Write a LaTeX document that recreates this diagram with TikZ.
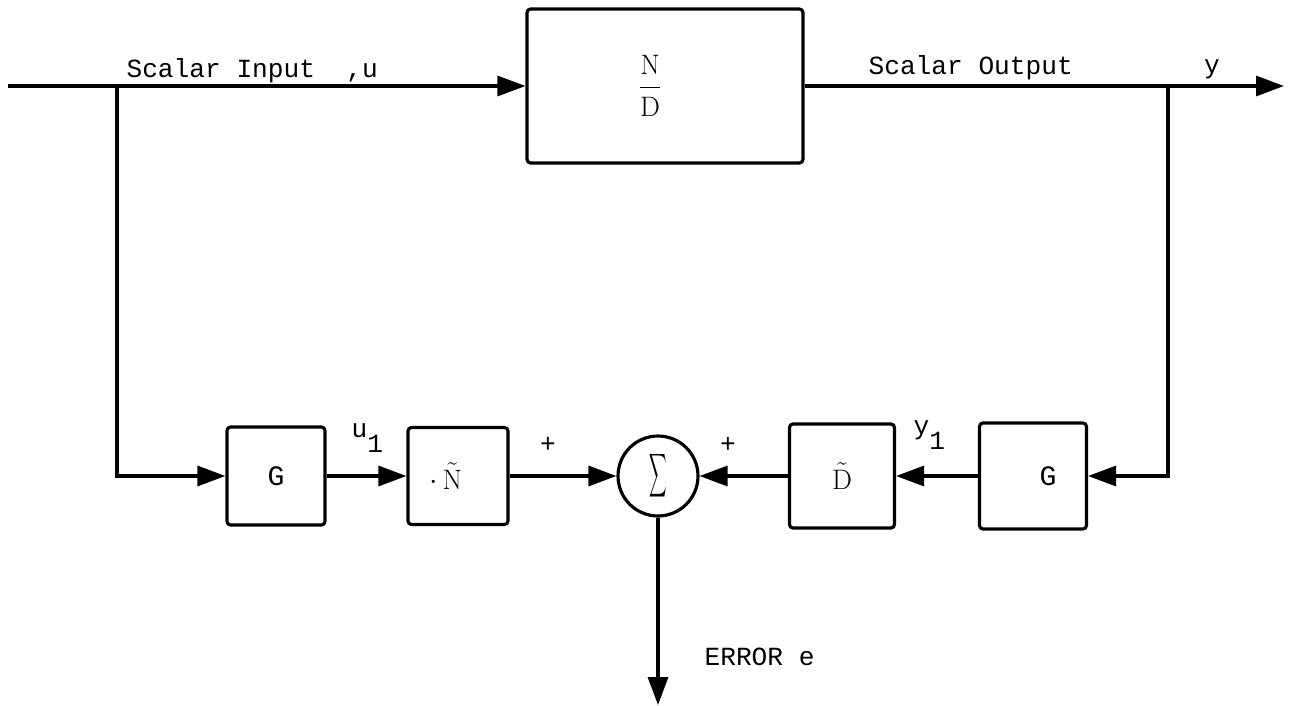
\documentclass[tikz,border=0pt]{standalone}
\usepackage{fontspec}
\setmonofont{Liberation Mono}
\usepackage{amsmath}
\usetikzlibrary{shapes, arrows.meta, positioning, calc}

\begin{document}
\begin{tikzpicture}[x=0.02cm, y=-0.02cm, line width=1.8pt,
  blk/.style={draw, rounded corners=2pt, inner sep=0pt, font=\fontsize{16}{18}\selectfont},
  sumnode/.style={draw, circle, minimum size=1.6cm, inner sep=0pt},
  arr/.style={-{Triangle[length=5.6mm, width=4mm]}},
  lbl/.style={inner sep=0pt, font=\ttfamily\fontsize{14.9}{17}\selectfont}]

  \useasboundingbox (0,0) rectangle (1292,706);

  % plant and the loop blocks
  \node[blk, minimum width=5.52cm, minimum height=3.08cm] (plant) at (665,86)
    {\raisebox{0.26cm}{$\dfrac{\mathrm{N}}{\mathrm{D}}$}\hspace*{0.6cm}};
  \node[blk, minimum width=1.96cm, minimum height=1.96cm] (gu) at (276,476) {\ttfamily G};
  \node[blk, minimum width=2.0cm, minimum height=1.94cm] (ntil) at (458,476)
    {$\cdot\,\tilde{\mathrm{N}}$\hspace*{0.5cm}};
  \node[sumnode] (sum) at (658,476)
    {\fontsize{17}{19}\selectfont\scalebox{0.4}[1]{$\displaystyle\sum$}};
  \node[blk, minimum width=2.1cm, minimum height=2.08cm] (dtil) at (842,476) {$\tilde{\mathrm{D}}$};
  \node[blk, minimum width=2.14cm, minimum height=2.12cm] (gy) at (1033,476)
    {\ttfamily\hspace*{0.6cm}G};

  \coordinate (in) at (8,86);
  \coordinate (tapu) at (117,86);
  \coordinate (tapy) at (1168,86);
  \coordinate (out) at (1284,86);
  \coordinate (err) at (658,705);

  % connectors
  \draw[arr] (in) -- (plant);
  \draw[arr] (tapu) |- (gu);
  \draw[arr] (plant) -- (out);
  \draw[arr] (tapy) |- (gy);
  \draw[arr] (gu) -- (ntil);
  \draw[arr] (ntil) -- (sum);
  \draw[arr] (dtil) -- (sum);
  \draw[arr] (gy) -- (dtil);
  \draw[arr] (sum) -- (err);

  % labels
  \node[lbl, anchor=base west] (inlbl) at (125,78) {Scalar Input\ \ ,u};
  \node[lbl, anchor=base west] (outlbl) at (867,75) {Scalar Output};
  \node[lbl, anchor=base] (ylbl) at (1212,74) {y};
  \node[lbl, anchor=base west] (ulbl) at (350,437) {u\raisebox{-1.1ex}{1}};
  \node[lbl, anchor=base west] (y1lbl) at (912,434) {y\raisebox{-1.1ex}{1}};
  \node[lbl] (plusl) at (548,445) {+};
  \node[lbl] (plusr) at (728,445) {+};
  \node[lbl, anchor=base west] (errlbl) at (703,665) {ERROR e};
\end{tikzpicture}
\end{document}
